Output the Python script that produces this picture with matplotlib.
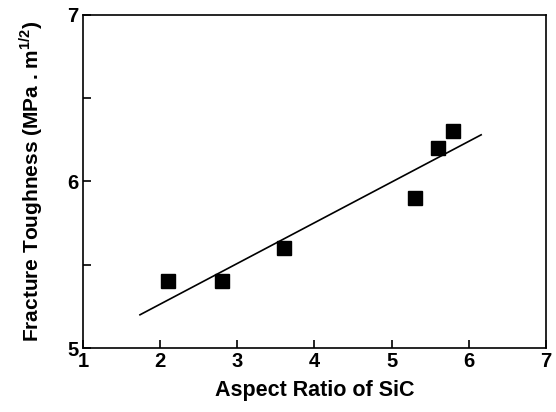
import matplotlib
matplotlib.use("Agg")
import matplotlib.pyplot as plt
from matplotlib.ticker import MultipleLocator

aspect_ratio = [2.1, 2.8, 3.6, 5.3, 5.6, 5.8]
toughness = [5.4, 5.4, 5.6, 5.9, 6.2, 6.3]
fit_x = [1.74, 6.16]
fit_y = [5.20, 6.28]
x_ticks = [1, 2, 3, 4, 5, 6, 7]
y_ticks = [5, 6, 7]

plt.rcParams['font.family'] = ['Liberation Sans', 'DejaVu Sans']
plt.rcParams['font.weight'] = 'bold'
plt.rcParams['mathtext.fontset'] = 'custom'
plt.rcParams['mathtext.bf'] = 'Liberation Sans:bold'
plt.rcParams['mathtext.rm'] = 'Liberation Sans:bold'

fig = plt.figure(figsize=(5.56, 4.12), dpi=100)
ax = fig.add_axes([0.149, 0.155, 0.833, 0.809])
ax.plot(fit_x, fit_y, color='black', lw=1.2)
ax.plot(aspect_ratio, toughness, 's', color='black', markersize=10.5)
ax.set_xlim(1, 7)
ax.set_ylim(5, 7)
ax.set_xticks(x_ticks)
ax.set_yticks(y_ticks)
ax.yaxis.set_minor_locator(MultipleLocator(0.5))
ax.tick_params(which='both', direction='in', labelsize=14.5, width=1.2)
ax.tick_params(which='major', length=6, pad=3)
ax.tick_params(which='minor', length=6)
for lab in ax.get_xticklabels() + ax.get_yticklabels():
    lab.set_fontweight('bold')
for s in ax.spines.values():
    s.set_linewidth(1.2)
ax.set_xlabel('Aspect Ratio of SiC', fontsize=15.5, fontweight='bold', labelpad=6)
ax.set_ylabel('Fracture Toughness (MPa . m$^{\\mathrm{1/2}}$)', fontsize=15, fontweight='bold', labelpad=16)
fig.savefig('out.png', dpi=100)
